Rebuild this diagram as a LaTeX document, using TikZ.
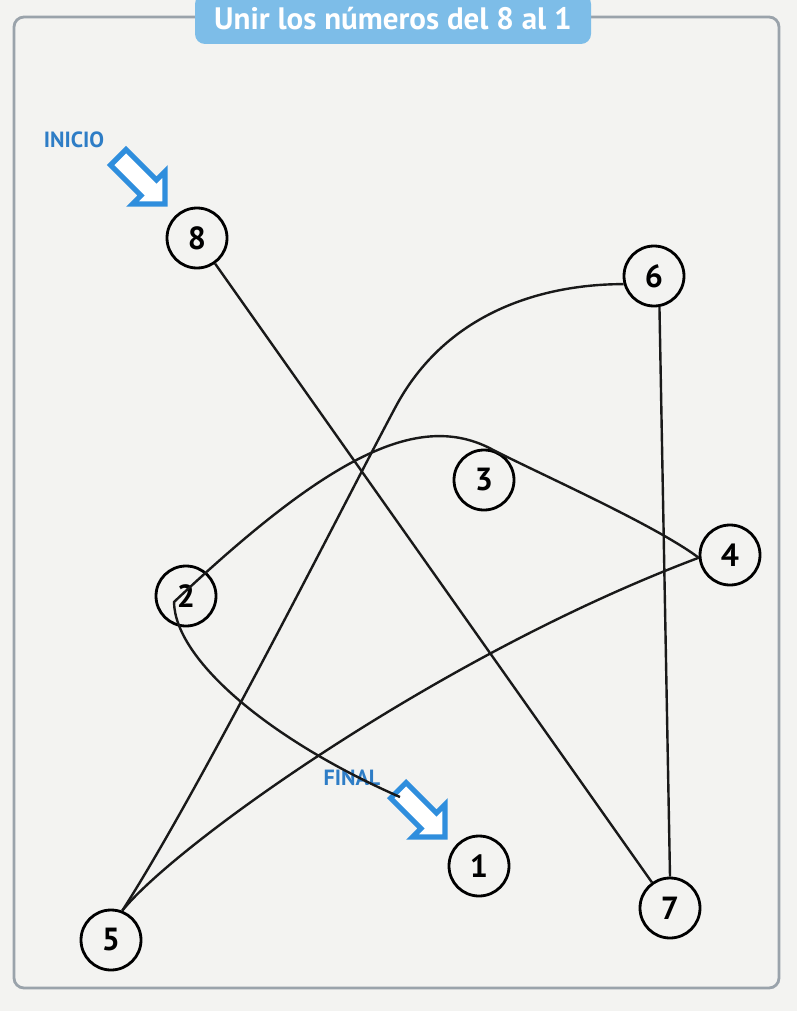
\documentclass[tikz,border=0pt]{standalone}
\usepackage{fontspec}
\setmainfont{PT Sans}
\usetikzlibrary{calc}
\definecolor{cPaper}{HTML}{F3F3F1}
\definecolor{cFrame}{HTML}{9AA3AB}
\definecolor{cTab}{HTML}{7DBDE8}
\definecolor{cLabel}{HTML}{2E7DC6}
\definecolor{cArrow}{HTML}{2F8EDD}

\begin{document}
\begin{tikzpicture}[x=0.5pt, y=-0.5pt,
    num/.style={circle, draw=black, line width=1.4pt, minimum size=30pt, inner sep=0pt, font=\fontsize{16}{16}\selectfont\bfseries},
    link/.style={line width=1.2pt, black!90},
    lbl/.style={font=\fontsize{11}{11}\selectfont\bfseries, text=cLabel},
    pointer/.style={draw=cArrow, fill=white, line width=2.6pt, line join=miter},
    tab/.style={rounded corners=5pt, fill=cTab, minimum width=198pt, minimum height=25pt, inner sep=0pt, text=white, font=\fontsize{15.5}{15.5}\selectfont\bfseries}
]
\useasboundingbox (0,0) rectangle (797,1011);
\fill[cPaper] (0,0) rectangle (797,1011);
\draw[cFrame, line width=1.4pt, rounded corners=5pt] (14,17) rectangle (779,988);

\node[tab] (title) at (393,19) {Unir los números del 8 al 1};

\node[num] (p8) at (197,238) {8};
\node[num] (p6) at (654,276) {6};
\node[num] (p3) at (484,480) {3};
\node[num] (p4) at (730,555) {4};
\node[num] (p2) at (186,596) {2};
\node[num] (p1) at (479,866) {1};
\node[num] (p7) at (670,908) {7};
\node[num] (p5) at (111,940) {5};

% start and end marks
\node[lbl] (inicio) at (74,140) {INICIO};
\node[lbl] (final) at (352,778) {FINAL};
\draw[pointer, shift={(165,204)}, rotate=-45]
    (0,0) -- (-23,-23) -- (-23,-11) -- (-66,-11) -- (-66,11) -- (-23,11) -- (-23,23) -- cycle;
\draw[pointer, shift={(445,837)}, rotate=-45]
    (0,0) -- (-23,-23) -- (-23,-11) -- (-66,-11) -- (-66,11) -- (-23,11) -- (-23,23) -- cycle;
\coordinate (fin) at (400,797);

% the pen line, 8 down to 1
\draw[link] (p8) -- (p7);
\draw[link] (p6.-80) -- (p7.north);
\draw[link] (p6.195) .. controls (560,284) and (451,302) .. (395,408)
    .. controls (348,496) and (200,790) .. (p5.69);
\draw[link] (p5.69) .. controls (175,845) and (440,655) .. (p4.185);
\draw[link] (p4.185) .. controls (655,525) and (540,474) .. (p3.73)
    .. controls (420,410) and (330,455) .. ($(p2)+(-12,6)$)
    .. controls (175,660) and (270,740) .. (fin);

\end{tikzpicture}
\end{document}
